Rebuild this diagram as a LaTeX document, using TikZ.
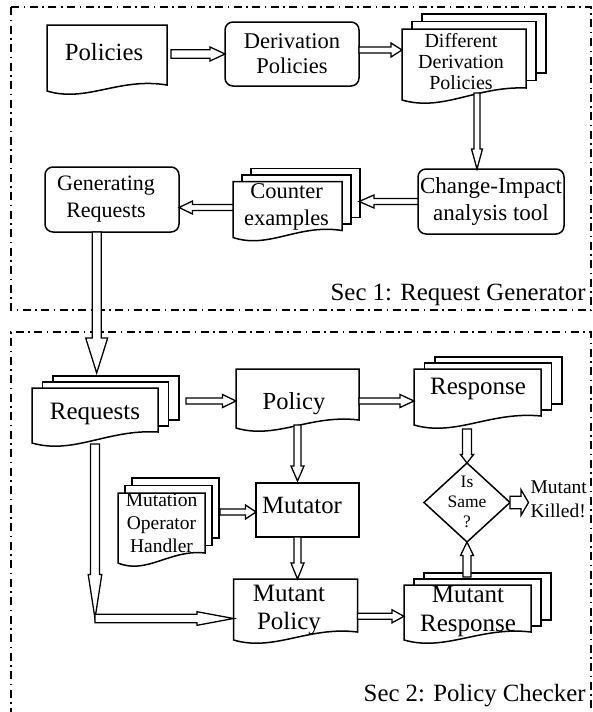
\documentclass[tikz,border=0pt]{standalone}
\usepackage{fontspec}
\setmainfont{Liberation Serif}
\usetikzlibrary{calc,shapes.geometric,backgrounds}
\newcommand{\fsz}[2]{\fontsize{#1}{#2}\selectfont}
\tikzset{
  docnode/.style={draw=none, inner sep=0pt, outer sep=0pt, anchor=north west},
  docline/.style={draw, fill=white, line width=1.5pt},
  rbox/.style={draw, line width=1.5pt, rounded corners=8pt, inner sep=0pt, outer sep=0pt, anchor=north west, align=center},
  sqbox/.style={draw, line width=1.5pt, inner sep=0pt, outer sep=0pt, anchor=north west},
  txt/.style={inner sep=0pt, outer sep=0pt},
  secbox/.style={line width=1.2pt, dash pattern=on 8pt off 4.5pt on 1.5pt off 4.5pt},
  harrow/.style={draw, fill=white, line width=1.3pt, line join=miter},
  hollow/.style n args={3}{to path={let \p1=(\tikztostart), \p2=(\tikztotarget), \n1={atan2(\y2-\y1,\x2-\x1)} in
    ($(\p1)+({\n1+90}:#1)$) -- ($(\p2)+({\n1+180}:#3)+({\n1+90}:#1)$) -- ($(\p2)+({\n1+180}:#3)+({\n1+90}:#2)$) -- (\p2) -- ($(\p2)+({\n1+180}:#3)+({\n1-90}:#2)$) -- ($(\p2)+({\n1+180}:#3)+({\n1-90}:#1)$) -- ($(\p1)+({\n1-90}:#1)$) -- cycle}}
}
\newcommand{\docfront}[2]{%
  \draw[docline] (#1.north west) -- (#1.north east) -- ([yshift=#2]#1.south east)
    .. controls ($(#1.south west)!0.6!(#1.south east)+(0,14pt)$) and ($(#1.south west)!0.33!(#1.south east)+(0,-12pt)$) .. (#1.south west) -- cycle;}
\newcommand{\docstack}[4]{%
  \draw[docline] ($(#1.north west)+(2*#3,2*#4)$) rectangle ($(#1.south east)+(2*#3,2*#4+#2)$);
  \draw[docline] ($(#1.north west)+(#3,#4)$) rectangle ($(#1.south east)+(#3,#4+#2)$);
  \docfront{#1}{#2}}
\begin{document}
\begin{tikzpicture}[x=1pt,y=-1pt]
\useasboundingbox (0,0) rectangle (592,712);

% ---------- shape nodes ----------
\node[docnode, minimum width=120pt, minimum height=66pt] (pol) at (47,25) {};
\node[rbox, minimum width=134pt, minimum height=64pt, font=\fsz{22.5}{25}] (der) at (225,22) {Derivation\\Policies};
\node[docnode, minimum width=124pt, minimum height=71pt] (ddp) at (402,29) {};
\node[rbox, minimum width=146pt, minimum height=65pt, font=\fsz{23}{27}] (cia) at (418,169) {Change-Impact\\analysis tool};
\node[docnode, minimum width=109pt, minimum height=56pt] (cex) at (233,181.5) {};
\node[rbox, minimum width=134pt, minimum height=65pt] (gr) at (45,167) {};
\node[docnode, minimum width=126pt, minimum height=55pt] (req) at (32,388) {};
\node[docnode, minimum width=123pt, minimum height=59pt] (pcy) at (236,369) {};
\node[docnode, minimum width=127pt, minimum height=56pt] (resp) at (414,369) {};
\node[docnode, minimum width=87pt, minimum height=70pt] (moh) at (118,493) {};
\node[sqbox, minimum width=103pt, minimum height=54pt] (mut) at (256,483) {};
\node[draw, diamond, line width=1.5pt, inner sep=0pt, outer sep=0pt, minimum width=86pt, minimum height=79pt] (same) at (467,502.5) {};
\node[docnode, minimum width=124pt, minimum height=61pt] (mpol) at (233.5,579) {};
\node[docnode, minimum width=127pt, minimum height=55pt] (mresp) at (404,585) {};
\coordinate (jn) at (95,618.5);

% ---------- frames and document outlines ----------
\begin{pgfonlayer}{background}
\draw[secbox] (11,7) rectangle (591,310);
\draw[secbox] (11,716) -- (11,332) -- (591,332) -- (591,716);
\docfront{pol}{6pt}
\docstack{ddp}{12pt}{10pt}{7.5pt}
\docstack{cex}{7pt}{9pt}{6.5pt}
\docstack{req}{11pt}{10.5pt}{6pt}
\docfront{pcy}{8pt}
\docstack{resp}{9pt}{10.5pt}{6pt}
\docstack{moh}{10pt}{7pt}{7.5pt}
\docfront{mpol}{8pt}
\docstack{mresp}{8pt}{10pt}{6pt}
\end{pgfonlayer}

% ---------- texts ----------
\node[txt, anchor=base, font=\fsz{24.7}{29}] (polt) at (104,60.5) {Policies};
\node[txt, anchor=north, align=center, font=\fsz{20}{21}] (ddpt) at (461,33.3) {Different\\Derivation\\Policies};
\node[txt, anchor=north, align=center, font=\fsz{22.5}{27}] (cext) at (286.5,184) {Counter\\examples};
\node[txt, anchor=north, align=center, font=\fsz{22}{26.7}] (grt) at (106,176.3) {Generating\\Requests};
\node[txt, anchor=base east, font=\fsz{24.8}{29}] (lab1) at (585.5,300) {Sec 1: Request Generator};
\node[txt, anchor=base, font=\fsz{25}{29}] (reqt) at (95,419.5) {Requests};
\node[txt, anchor=base, font=\fsz{24.5}{29}] (pcyt) at (294,409.5) {Policy};
\node[txt, anchor=base, font=\fsz{25}{29}] (respt) at (478,394.5) {Response};
\node[txt, anchor=north, align=center, font=\fsz{19.5}{22.7}] (moht) at (161.5,494) {Mutation\\Operator\\Handler};
\node[txt, anchor=base, font=\fsz{24.8}{29}] (mutt) at (302,513) {Mutator};
\node[txt, anchor=north, align=center, font=\fsz{17.5}{20}] (samet) at (467,475.7) {Is\\Same\\?};
\node[txt, anchor=north west, align=left, font=\fsz{19.5}{23.3}] (kt) at (530.5,481) {Mutant\\Killed!};
\node[txt, anchor=north, align=center, font=\fsz{25}{28.5}] (mpolt) at (289,585) {Mutant\\Policy};
\node[txt, anchor=north, align=center, font=\fsz{25}{29.5}] (mrespt) at (468,586) {Mutant\\Response};
\node[txt, anchor=base east, font=\fsz{24.8}{29}] (lab2) at (585.5,701.5) {Sec 2: Policy Checker};

% ---------- hollow arrows ----------
\draw[harrow, hollow={4.2pt}{7pt}{15pt}] ($(pol.east |- der.west)+(4pt,0)$) to (der.west);
\draw[harrow, hollow={3pt}{7pt}{11pt}] ($(der.east)+(0,4pt)$) to ($(der.east -| ddp.west)+(0,4pt)$);
\draw[harrow, hollow={3pt}{5.5pt}{20pt}] ($(ddp.south)+(13pt,7pt)$) to ($(ddp.south |- cia.north)+(13pt,0)$);
\draw[harrow, hollow={3pt}{6.5pt}{15pt}] (cia.west) to ($(cex.east |- cia.west)+(17pt,0)$);
\draw[harrow, hollow={3pt}{6.5pt}{13.5pt}] ($(cex.west)+(0,2pt)$) to ($(cex.west -| gr.east)+(0,2pt)$);
\draw[harrow, hollow={4.5pt}{11pt}{35pt}] ($(gr.south)+(-15.3pt,0)$) to ($(gr.south |- req.north)+(-15.3pt,15pt)$);
\draw[harrow, hollow={3pt}{6.5pt}{13.5pt}] ($(pcy.west -| req.east)+(28pt,-2.5pt)$) to ($(pcy.west)+(0,-2.5pt)$);
\draw[harrow, hollow={3pt}{6.5pt}{14pt}] ($(pcy.east)+(0,-2.5pt)$) to ($(pcy.east -| resp.west)+(0,-2.5pt)$);
\draw[harrow, hollow={3.5pt}{6.5pt}{15pt}] ($(pcy.south)+(0,3pt)$) to ($(pcy.south |- mut.north)+(0,2pt)$);
\draw[harrow, hollow={3.5pt}{6.5pt}{16pt}] (pcy.south |- mut.south) to (pcy.south |- mpol.north);
\draw[harrow, hollow={3pt}{7pt}{10.5pt}] ($(mut.west -| moh.east)+(15pt,-2pt)$) to ($(mut.west)+(0,-2pt)$);
\draw[harrow, hollow={4.5pt}{6.5pt}{8.5pt}] ($(same.north |- resp.south)+(0,-4pt)$) to (same.north);
\draw[harrow, hollow={4pt}{6.5pt}{13.5pt}] ($(same.south |- mresp.north)+(0,8pt)$) to (same.south);
\draw[harrow, hollow={6.3pt}{12.8pt}{7.5pt}] (same.east) to ($(same.east -| kt.west)+(-2pt,0)$);
\draw[harrow, hollow={4.5pt}{6.8pt}{44pt}] ($(req.south)+(0,-1pt)$) to (req.south |- jn);
\draw[harrow, hollow={4.3pt}{6.8pt}{36.5pt}] (jn) to (jn -| mpol.west);
\draw[harrow, hollow={3pt}{6.5pt}{12pt}] ($(mpol.east)+(0,-6.8pt)$) to ($(mpol.east -| mresp.west)+(0,-6.8pt)$);
\end{tikzpicture}
\end{document}
